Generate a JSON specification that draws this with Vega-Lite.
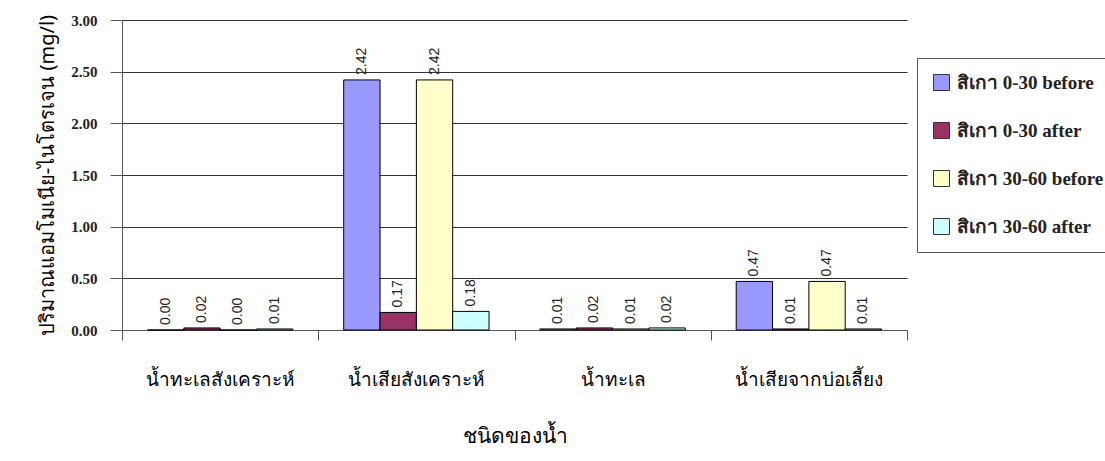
{
  "$schema": "https://vega.github.io/schema/vega-lite/v6.json",
  "width": 785,
  "height": 310,
  "autosize": {"type": "none"},
  "padding": {"left": 122, "top": 20, "right": 198, "bottom": 131},
  "background": "white",
  "config": {"view": {"stroke": null}},
  "data": {
    "values": [
      {"type": "น้ำทะเลสังเคราะห์", "series": "สิเกา 0-30 before", "value": 0.00},
      {"type": "น้ำทะเลสังเคราะห์", "series": "สิเกา 0-30 after", "value": 0.02},
      {"type": "น้ำทะเลสังเคราะห์", "series": "สิเกา 30-60 before", "value": 0.00},
      {"type": "น้ำทะเลสังเคราะห์", "series": "สิเกา 30-60 after", "value": 0.01},
      {"type": "น้ำเสียสังเคราะห์", "series": "สิเกา 0-30 before", "value": 2.42},
      {"type": "น้ำเสียสังเคราะห์", "series": "สิเกา 0-30 after", "value": 0.17},
      {"type": "น้ำเสียสังเคราะห์", "series": "สิเกา 30-60 before", "value": 2.42},
      {"type": "น้ำเสียสังเคราะห์", "series": "สิเกา 30-60 after", "value": 0.18},
      {"type": "น้ำทะเล", "series": "สิเกา 0-30 before", "value": 0.01},
      {"type": "น้ำทะเล", "series": "สิเกา 0-30 after", "value": 0.02},
      {"type": "น้ำทะเล", "series": "สิเกา 30-60 before", "value": 0.01},
      {"type": "น้ำทะเล", "series": "สิเกา 30-60 after", "value": 0.02},
      {"type": "น้ำเสียจากบ่อเลี้ยง", "series": "สิเกา 0-30 before", "value": 0.47},
      {"type": "น้ำเสียจากบ่อเลี้ยง", "series": "สิเกา 0-30 after", "value": 0.01},
      {"type": "น้ำเสียจากบ่อเลี้ยง", "series": "สิเกา 30-60 before", "value": 0.47},
      {"type": "น้ำเสียจากบ่อเลี้ยง", "series": "สิเกา 30-60 after", "value": 0.01}
    ]
  },
  "encoding": {
    "x": {
      "field": "type", "type": "nominal", "sort": null,
      "scale": {"paddingInner": 0, "paddingOuter": 0},
      "axis": {
        "title": "ชนิดของน้ำ", "labelAngle": 0, "tickBand": "extent",
        "domainColor": "#555", "tickColor": "#555", "tickSize": 10,
        "labelPadding": 30, "labelFont": "Noto Sans", "labelFontSize": 19, "labelColor": "black",
        "titleFont": "Noto Sans", "titleFontSize": 21, "titleFontWeight": "normal", "titlePadding": 36, "titleColor": "black"
      }
    },
    "xOffset": {
      "field": "series", "type": "nominal", "sort": null,
      "scale": {"paddingInner": 0, "paddingOuter": 0.7}
    },
    "y": {
      "field": "value", "type": "quantitative",
      "scale": {"domain": [0, 3]},
      "axis": {
        "title": "ปริมาณแอมโมเนีย-ไนโตรเจน (mg/l)", "values": [0, 0.5, 1, 1.5, 2, 2.5, 3], "format": ".2f",
        "grid": true, "gridColor": "#333", "gridOpacity": 1, "gridWidth": 1,
        "domainColor": "#555", "tickColor": "#555", "tickSize": 12, "labelPadding": 13,
        "labelFont": "Liberation Serif", "labelFontSize": 15, "labelFontWeight": "bold", "labelColor": "#222",
        "titleFont": "Noto Sans", "titleFontSize": 20, "titleFontWeight": "normal", "titlePadding": 13, "titleColor": "black"
      }
    }
  },
  "layer": [
    {
      "mark": {"type": "bar", "stroke": "black", "strokeWidth": 1},
      "encoding": {
        "color": {
          "field": "series", "type": "nominal", "sort": null,
          "scale": {
            "domain": ["สิเกา 0-30 before", "สิเกา 0-30 after", "สิเกา 30-60 before", "สิเกา 30-60 after"],
            "range": ["#9999FF", "#993366", "#FFFFCC", "#CCFFFF"]
          },
          "legend": {
            "title": null, "orient": "none", "legendX": 795, "legendY": 38,
            "symbolType": "square", "symbolSize": 256, "symbolStrokeColor": "#333", "symbolStrokeWidth": 1,
            "symbolOpacity": 1,
            "strokeColor": "#555", "fillColor": "white", "padding": 15,
            "rowPadding": 27, "labelFont": "Liberation Serif", "labelFontSize": 19, "labelFontWeight": "bold",
            "labelColor": "#222", "labelLimit": 300, "labelOffset": 6
          }
        }
      }
    },
    {
      "mark": {"type": "text", "angle": 270, "align": "left", "baseline": "middle", "dx": 5,
               "font": "Liberation Sans", "fontSize": 14, "color": "#222"},
      "encoding": {
        "text": {"field": "value", "type": "quantitative", "format": ".2f"}
      }
    }
  ]
}
